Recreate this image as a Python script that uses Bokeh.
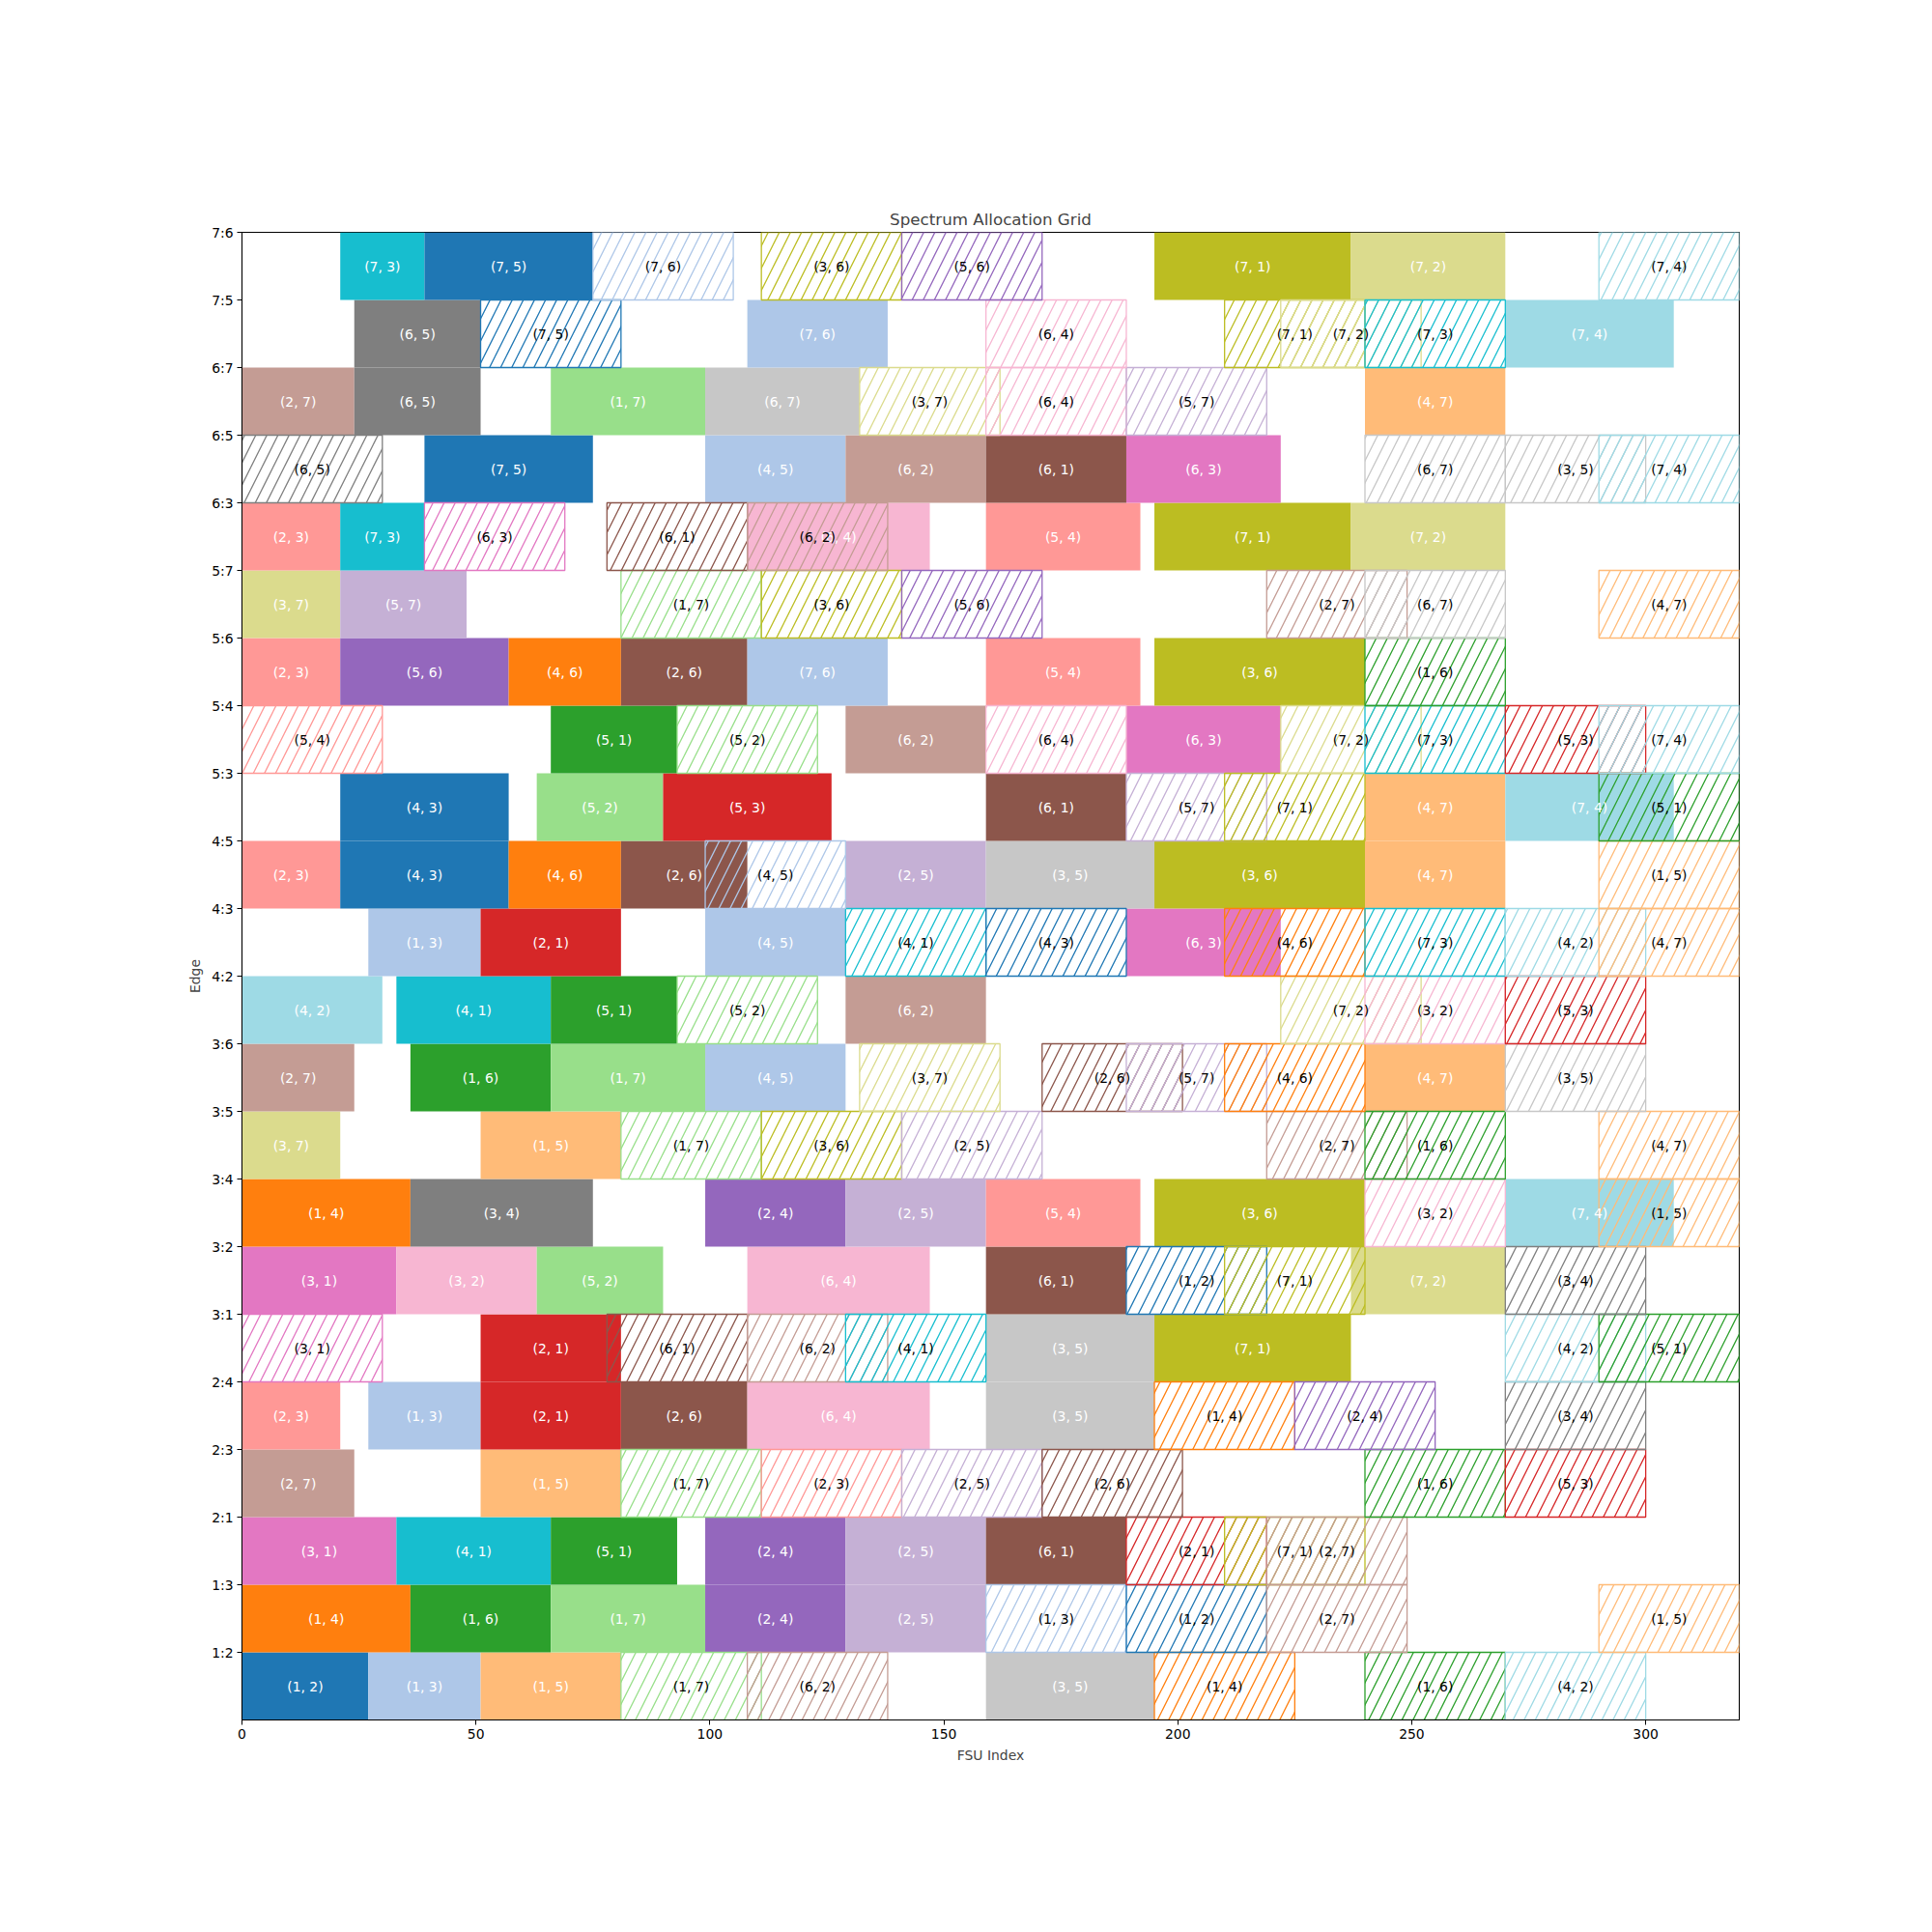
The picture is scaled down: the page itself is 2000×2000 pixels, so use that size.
from bokeh.plotting import figure
from bokeh.models import FixedTicker, ColumnDataSource, Range1d
from bokeh.core.properties import value
from bokeh.embed import file_html
from bokeh.resources import INLINE

# Edge labels, bottom to top
edge_labels = ["1:2", "1:3", "2:1", "2:3", "2:4", "3:1", "3:2", "3:4", "3:5", "3:6", "4:2",
               "4:3", "4:5", "5:3", "5:4", "5:6", "5:7", "6:3", "6:5", "6:7", "7:5", "7:6"]
x_ticks = [0, 50, 100, 150, 200, 250, 300]
fsu_max = 320

# Allocations per edge: (source, dest, start FSU, end FSU, backup flag)
row_1_2 = [(1, 2, 0, 27, 0), (1, 3, 27, 51, 0), (1, 5, 51, 81, 0), (1, 7, 81, 111, 1), (6, 2, 108, 138, 1),
           (3, 5, 159, 195, 0), (1, 4, 195, 225, 1), (1, 6, 240, 270, 1), (4, 2, 270, 300, 1)]
row_1_3 = [(1, 4, 0, 36, 0), (1, 6, 36, 66, 0), (1, 7, 66, 99, 0), (2, 4, 99, 129, 0), (2, 5, 129, 159, 0),
           (1, 3, 159, 189, 1), (1, 2, 189, 219, 1), (2, 7, 219, 249, 1), (1, 5, 290, 320, 1)]
row_2_1 = [(3, 1, 0, 33, 0), (4, 1, 33, 66, 0), (5, 1, 66, 93, 0), (2, 4, 99, 129, 0), (2, 5, 129, 159, 0),
           (6, 1, 159, 189, 0), (2, 1, 189, 219, 1), (7, 1, 210, 240, 1), (2, 7, 219, 249, 1)]
row_2_3 = [(2, 7, 0, 24, 0), (1, 5, 51, 81, 0), (1, 7, 81, 111, 1), (2, 3, 111, 141, 1), (2, 5, 141, 171, 1),
           (2, 6, 171, 201, 1), (1, 6, 240, 270, 1), (5, 3, 270, 300, 1)]
row_2_4 = [(2, 3, 0, 21, 0), (1, 3, 27, 51, 0), (2, 1, 51, 81, 0), (2, 6, 81, 108, 0), (6, 4, 108, 147, 0),
           (3, 5, 159, 195, 0), (1, 4, 195, 225, 1), (2, 4, 225, 255, 1), (3, 4, 270, 300, 1)]
row_3_1 = [(3, 1, 0, 30, 1), (2, 1, 51, 81, 0), (6, 1, 78, 108, 1), (6, 2, 108, 138, 1), (4, 1, 129, 159, 1),
           (3, 5, 159, 195, 0), (7, 1, 195, 237, 0), (4, 2, 270, 300, 1), (5, 1, 290, 320, 1)]
row_3_2 = [(3, 1, 0, 33, 0), (3, 2, 33, 63, 0), (5, 2, 63, 90, 0), (6, 4, 108, 147, 0), (6, 1, 159, 189, 0),
           (1, 2, 189, 219, 1), (7, 1, 210, 240, 1), (7, 2, 237, 270, 0), (3, 4, 270, 300, 1)]
row_3_4 = [(1, 4, 0, 36, 0), (3, 4, 36, 75, 0), (2, 4, 99, 129, 0), (2, 5, 129, 159, 0), (5, 4, 159, 192, 0),
           (3, 6, 195, 240, 0), (3, 2, 240, 270, 1), (7, 4, 270, 306, 0), (1, 5, 290, 320, 1)]
row_3_5 = [(3, 7, 0, 21, 0), (1, 5, 51, 81, 0), (1, 7, 81, 111, 1), (3, 6, 111, 141, 1), (2, 5, 141, 171, 1),
           (2, 7, 219, 249, 1), (1, 6, 240, 270, 1), (4, 7, 290, 320, 1)]
row_3_6 = [(2, 7, 0, 24, 0), (1, 6, 36, 66, 0), (1, 7, 66, 99, 0), (4, 5, 99, 129, 0), (3, 7, 132, 162, 1),
           (2, 6, 171, 201, 1), (5, 7, 189, 219, 1), (4, 6, 210, 240, 1), (4, 7, 240, 270, 0), (3, 5, 270, 300, 1)]
row_4_2 = [(4, 2, 0, 30, 0), (4, 1, 33, 66, 0), (5, 1, 66, 93, 0), (5, 2, 93, 123, 1), (6, 2, 129, 159, 0),
           (7, 2, 222, 252, 1), (3, 2, 240, 270, 1), (5, 3, 270, 300, 1)]
row_4_3 = [(1, 3, 27, 51, 0), (2, 1, 51, 81, 0), (4, 5, 99, 129, 0), (4, 1, 129, 159, 1), (4, 3, 159, 189, 1),
           (6, 3, 189, 222, 0), (4, 6, 210, 240, 1), (7, 3, 240, 270, 1), (4, 2, 270, 300, 1), (4, 7, 290, 320, 1)]
row_4_5 = [(2, 3, 0, 21, 0), (4, 3, 21, 57, 0), (4, 6, 57, 81, 0), (2, 6, 81, 108, 0), (4, 5, 99, 129, 1),
           (2, 5, 129, 159, 0), (3, 5, 159, 195, 0), (3, 6, 195, 240, 0), (4, 7, 240, 270, 0), (1, 5, 290, 320, 1)]
row_5_3 = [(4, 3, 21, 57, 0), (5, 2, 63, 90, 0), (5, 3, 90, 126, 0), (6, 1, 159, 189, 0), (5, 7, 189, 219, 1),
           (7, 1, 210, 240, 1), (4, 7, 240, 270, 0), (7, 4, 270, 306, 0), (5, 1, 290, 320, 1)]
row_5_4 = [(5, 4, 0, 30, 1), (5, 1, 66, 93, 0), (5, 2, 93, 123, 1), (6, 2, 129, 159, 0), (6, 4, 159, 189, 1),
           (6, 3, 189, 222, 0), (7, 2, 222, 252, 1), (7, 3, 240, 270, 1), (5, 3, 270, 300, 1), (7, 4, 290, 320, 1)]
row_5_6 = [(2, 3, 0, 21, 0), (5, 6, 21, 57, 0), (4, 6, 57, 81, 0), (2, 6, 81, 108, 0), (7, 6, 108, 138, 0),
           (5, 4, 159, 192, 0), (3, 6, 195, 240, 0), (1, 6, 240, 270, 1)]
row_5_7 = [(3, 7, 0, 21, 0), (5, 7, 21, 48, 0), (1, 7, 81, 111, 1), (3, 6, 111, 141, 1), (5, 6, 141, 171, 1),
           (2, 7, 219, 249, 1), (6, 7, 240, 270, 1), (4, 7, 290, 320, 1)]
row_6_3 = [(2, 3, 0, 21, 0), (7, 3, 21, 39, 0), (6, 3, 39, 69, 1), (6, 1, 78, 108, 1), (6, 4, 108, 147, 0),
           (6, 2, 108, 138, 1), (5, 4, 159, 192, 0), (7, 1, 195, 237, 0), (7, 2, 237, 270, 0)]
row_6_5 = [(6, 5, 0, 30, 1), (7, 5, 39, 75, 0), (4, 5, 99, 129, 0), (6, 2, 129, 159, 0), (6, 1, 159, 189, 0),
           (6, 3, 189, 222, 0), (6, 7, 240, 270, 1), (3, 5, 270, 300, 1), (7, 4, 290, 320, 1)]
row_6_7 = [(2, 7, 0, 24, 0), (6, 5, 24, 51, 0), (1, 7, 66, 99, 0), (6, 7, 99, 132, 0), (3, 7, 132, 162, 1),
           (6, 4, 159, 189, 1), (5, 7, 189, 219, 1), (4, 7, 240, 270, 0)]
row_7_5 = [(6, 5, 24, 51, 0), (7, 5, 51, 81, 1), (7, 6, 108, 138, 0), (6, 4, 159, 189, 1), (7, 1, 210, 240, 1),
           (7, 2, 222, 252, 1), (7, 3, 240, 270, 1), (7, 4, 270, 306, 0)]
row_7_6 = [(7, 3, 21, 39, 0), (7, 5, 39, 75, 0), (7, 6, 75, 105, 1), (3, 6, 111, 141, 1), (5, 6, 141, 171, 1),
           (7, 1, 195, 237, 0), (7, 2, 237, 270, 0), (7, 4, 290, 320, 1)]

edge_rows = [row_1_2, row_1_3, row_2_1, row_2_3, row_2_4, row_3_1, row_3_2, row_3_4, row_3_5, row_3_6, row_4_2,
             row_4_3, row_4_5, row_5_3, row_5_4, row_5_6, row_5_7, row_6_3, row_6_5, row_6_7, row_7_5, row_7_6]

tab20 = ["#1f77b4", "#aec7e8", "#ff7f0e", "#ffbb78", "#2ca02c", "#98df8a", "#d62728", "#ff9896",
         "#9467bd", "#c5b0d5", "#8c564b", "#c49c94", "#e377c2", "#f7b6d2", "#7f7f7f", "#c7c7c7",
         "#bcbd22", "#dbdb8d", "#17becf", "#9edae5"]
pairs = [(s, d) for s in range(1, 8) for d in range(1, 8) if s != d]
pair_color = {pr: tab20[i % 20] for i, pr in enumerate(pairs)}

solid = dict(l=[], r=[], b=[], t=[], color=[], cx=[], cy=[], label=[])
hatch = dict(l=[], r=[], b=[], t=[], color=[], cx=[], cy=[], label=[])
for k, row in enumerate(edge_rows):
    for (s, d, a, e, bk) in row:
        dd = hatch if bk else solid
        dd["l"].append(a); dd["r"].append(e)
        dd["b"].append(k); dd["t"].append(k + 1)
        dd["color"].append(pair_color[(s, d)])
        dd["cx"].append((a + e) / 2); dd["cy"].append(k + 0.5)
        dd["label"].append(f"({s}, {d})")

FONT = "DejaVu Sans"
p = figure(width=2000, height=2000, x_range=Range1d(0, fsu_max), y_range=Range1d(0, len(edge_labels)),
           output_backend="svg", toolbar_location=None, title="Spectrum Allocation Grid",
           min_border_left=250, min_border_right=200, min_border_top=240, min_border_bottom=220,
           background_fill_color="white", border_fill_color="white")

src_s = ColumnDataSource(solid)
src_h = ColumnDataSource(hatch)
p.quad(left="l", right="r", bottom="b", top="t", source=src_s, fill_color="color", line_color=None)
p.quad(left="l", right="r", bottom="b", top="t", source=src_h, fill_alpha=0, line_color="color",
       line_width=1.3, hatch_pattern="/", hatch_color="color", hatch_scale=23, hatch_weight=1.3)
p.text(x="cx", y="cy", text="label", source=src_s, text_color="white", text_align="center",
       text_baseline="middle", text_font=value(FONT), text_font_size="13.9px")
p.text(x="cx", y="cy", text="label", source=src_h, text_color="black", text_align="center",
       text_baseline="middle", text_font=value(FONT), text_font_size="13.9px")

p.title.align = "center"
p.title.text_font = FONT
p.title.text_font_size = "16.7px"
p.title.text_font_style = "normal"
p.title.standoff = 7

p.xgrid.visible = False
p.ygrid.visible = False
p.outline_line_color = "black"
p.outline_line_width = 1.1

p.xaxis.ticker = FixedTicker(ticks=x_ticks)
p.yaxis.ticker = FixedTicker(ticks=list(range(1, len(edge_labels) + 1)))
p.yaxis.major_label_overrides = {i + 1: lbl for i, lbl in enumerate(edge_labels)}
p.xaxis.axis_label = "FSU Index"
p.yaxis.axis_label = "Edge"
for ax in (p.xaxis[0], p.yaxis[0]):
    ax.axis_label_text_font = FONT
    ax.axis_label_text_font_size = "13.9px"
    ax.axis_label_text_font_style = "normal"
    ax.major_label_text_font = FONT
    ax.major_label_text_font_size = "13.9px"
    ax.major_label_text_color = "black"
    ax.minor_tick_line_color = None
    ax.major_tick_out = 5
    ax.major_tick_in = 0
    ax.major_label_standoff = 4
    ax.axis_label_standoff = 6
    ax.axis_line_color = "black"
    ax.major_tick_line_color = "black"

open("out.html", "w").write(file_html(p, INLINE))
